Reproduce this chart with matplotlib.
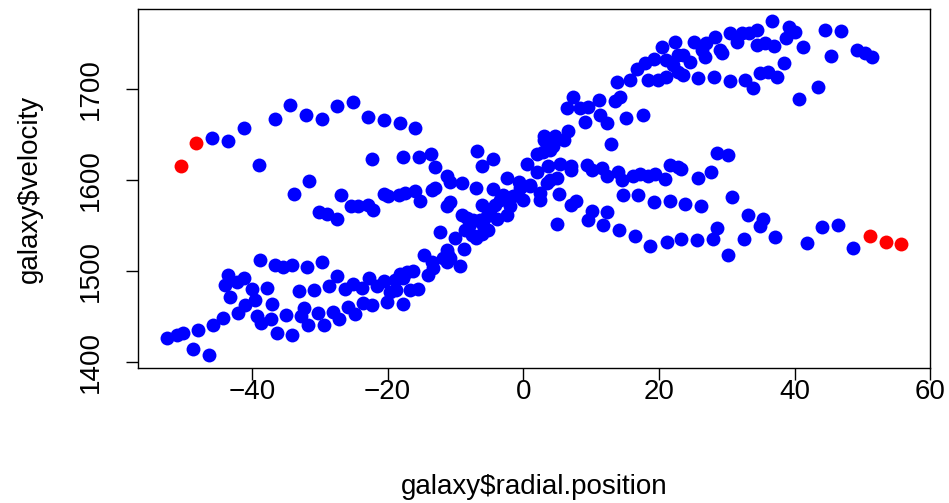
import matplotlib
matplotlib.use("Agg")
import matplotlib.pyplot as plt

# galaxy data
blue_pos = [
    -45.85, -43.6, -41.2, -38.9, -36.65, -34.35, -32.0, -29.7, -27.4, -25.15,
    -22.85, -20.5, -18.2, -15.9, -22.3, -17.7, -31.6, -33.85, -26.9,
    -20.6, -19.9, -18.3, -17.4, -30.1, -29.0, -27.5, -25.45, -24.3, -22.9, -22.1,
    -38.8, -36.6, -35.4, -34.15, -31.9, -29.65,
    -43.5, -44.0, -42.25, -41.1, -40.0, -37.75, -43.2, -39.55, -41.0, -42.0,
    -37.0, -39.3, -38.6, -37.2, -36.35, -35.0, -34.05, -33.1, -32.4, -32.7,
    -31.7, -30.9, -30.2, -29.4, -28.6, -28.0, -27.4, -27.1, -26.3, -25.8,
    -25.05, -24.8, -23.8, -23.6, -22.7, -22.35, -21.6, -20.5, -20.1, -18.9,
    -18.7, -17.8, -17.2, -16.7,
    -52.5, -51.1, -50.1, -48.7, -47.9, -46.4, -45.7, -44.3,
    -15.4, -13.65, -13.0, -11.3, -10.8, -9.1, -6.8, -6.1, -4.4, -6.9, -4.4,
    -15.9, -13.5, -13.0, -10.8, -6.1,
    0.5, 2.0, 2.95, 4.4, 3.05, 4.7, 6.05, 6.6,
    5.4, 7.1, 9.35, 10.1, 11.55, 12.3, 14.0, 14.5, 16.2, 17.2, 18.4, 19.4,
    20.9, 21.6, 22.85,
    3.7, 4.9, 5.2, 7.7,
    14.65, 16.95, 19.25, 21.6,
    6.4, 7.3, 8.35, 9.6, 9.1, 11.2, 11.3, 12.3, 12.9, 13.5, 14.25, 15.2, 17.6,
    13.8, 15.7, 16.7, 17.9, 19.2, 18.4, 19.9, 21.1, 20.4, 21.1, 22.4, 22.85, 22.85,
    -15.2, -11.3, -9.1, -8.3, -7.85, -12.3, -10.1, -8.6, -7.6, -6.9, -6.1,
    -5.2, -6.4, -5.4, -3.9, -2.45, -4.2, -3.4, -2.0, -1.5, 0.0, -0.5, 1.0,
    2.5, 2.5, 3.45, 7.1, 4.9, 9.6, 10.1, 11.8, 12.4, 14.1, 16.4, 18.7, 21.2,
    -14.7, -13.5, -13.3, -14.0, -11.8, -11.3, -11.05, -10.8, -9.3, -8.7,
    -16.2, -17.7, -15.5, -11.3, -18.2, -19.65,
    -2.45, -0.7, 1.0, -2.95, -4.9, -7.4, -5.9, 3.9, 7.1, 2.0, 3.9, 3.0,
    25.1, 27.0, 28.3, 29.0, 30.5, 31.5, 32.2, 33.2, 34.4, 34.4, 35.6, 36.9,
    36.6, 38.8, 39.1, 40.05, 41.2, 44.5, 46.8, 45.3, 49.15, 50.4, 51.4,
    23.6, 24.6, 26.3, 26.8, 29.25, 22.1, 23.6, 25.8, 28.1, 30.4, 32.7, 33.8,
    34.9, 36.1, 37.45, 38.4, 40.7, 43.4,
    28.5, 30.2, 23.25, 25.7, 27.7, 30.7, 23.8,
    26.2, 33.1, 35.4, 34.9, 28.5, 27.9, 30.2, 32.6, 37.1, 23.3, 25.55,
    41.8, 44.1, 46.35, 48.65,
]
blue_vel = [
    1646, 1643, 1657, 1617, 1667, 1683, 1672, 1667, 1682, 1686,
    1670, 1666, 1663, 1657, 1623, 1625, 1599, 1585, 1584,
    1585, 1582, 1584, 1586, 1565, 1563, 1557, 1572, 1571, 1573, 1567,
    1512, 1506, 1504, 1507, 1504, 1510,
    1495, 1485, 1488, 1492, 1480, 1481, 1471, 1468, 1462, 1454,
    1464, 1450, 1443, 1447, 1432, 1451, 1429, 1478, 1459, 1450,
    1440, 1479, 1454, 1440, 1483, 1455, 1494, 1447, 1480, 1460,
    1486, 1453, 1481, 1465, 1492, 1462, 1483, 1489, 1466, 1490,
    1479, 1464, 1499, 1479,
    1426, 1429, 1432, 1414, 1435, 1407, 1440, 1448,
    1625, 1629, 1614, 1605, 1598, 1597, 1632, 1616, 1623, 1591, 1590,
    1588, 1589, 1591, 1576, 1573,
    1618, 1629, 1631, 1637, 1649, 1649, 1644, 1654,
    1618, 1616, 1617, 1611, 1613, 1604, 1609, 1600, 1604, 1607, 1604, 1607,
    1601, 1617, 1614,
    1615, 1602, 1585, 1577,
    1584, 1584, 1576, 1577,
    1679, 1691, 1679, 1680, 1664, 1688, 1672, 1663, 1640, 1687, 1692, 1668, 1672,
    1708, 1710, 1722, 1729, 1733, 1710, 1710, 1714, 1747, 1732, 1752, 1738, 1719,
    1577, 1571, 1562, 1558, 1552, 1543, 1536, 1545, 1540, 1536, 1541,
    1545, 1556, 1560, 1557, 1562, 1573, 1578, 1571, 1582, 1578, 1591, 1593,
    1578, 1586, 1597, 1573, 1552, 1556, 1566, 1551, 1565, 1545, 1538, 1527, 1532,
    1518, 1510, 1503, 1496, 1514, 1523, 1518, 1514, 1505, 1524,
    1500, 1492, 1480, 1510, 1497, 1477,
    1602, 1598, 1595, 1584, 1567, 1556, 1550, 1633, 1611, 1609, 1600, 1644,
    1752, 1751, 1758, 1743, 1762, 1752, 1762, 1762, 1765, 1749, 1751, 1748,
    1775, 1756, 1769, 1763, 1747, 1765, 1764, 1737, 1743, 1740, 1735,
    1738, 1730, 1743, 1735, 1740, 1727, 1716, 1712, 1714, 1709, 1710, 1701,
    1718, 1719, 1714, 1729, 1689, 1703,
    1630, 1628, 1612, 1602, 1609, 1581, 1574,
    1571, 1562, 1557, 1549, 1547, 1535, 1518, 1535, 1537, 1535, 1534,
    1531, 1548, 1550, 1525,
]
red_pos = [-50.45, -48.2, 51.1, 53.4, 55.7]
red_vel = [1615, 1641, 1538, 1532, 1530]

x_ticks = [-40, -20, 0, 20, 40, 60]
y_ticks = [1400, 1500, 1600, 1700]

plt.rcParams['font.family'] = ['Liberation Sans', 'DejaVu Sans']

fig = plt.figure(figsize=(9.49, 5.03), dpi=100)
ax = fig.add_axes([0.1457, 0.2690, 0.8346, 0.7131])

ax.scatter(blue_pos, blue_vel, s=100, c='#0000ff', linewidths=0)
ax.scatter(red_pos, red_vel, s=100, c='#ff0000', linewidths=0)

ax.set_xlim(-56.76, 60.0)
ax.set_ylim(1393.4, 1788.4)
ax.set_xticks(x_ticks)
ax.set_yticks(y_ticks)
ax.set_yticklabels([str(v) for v in y_ticks], rotation=90, va='center')
ax.tick_params(direction='out', length=8.5, width=1, labelsize=20, colors='black')
ax.tick_params(axis='x', pad=0)
ax.tick_params(axis='y', pad=16)
for sp in ax.spines.values():
    sp.set_linewidth(1)

fig.text(0.5627, 0.032, 'galaxy$radial.position', ha='center', va='center', fontsize=20)
fig.text(0.031, 0.625, 'galaxy$velocity', ha='center', va='center', rotation=90, fontsize=20)

fig.savefig('out.png', dpi=100)
